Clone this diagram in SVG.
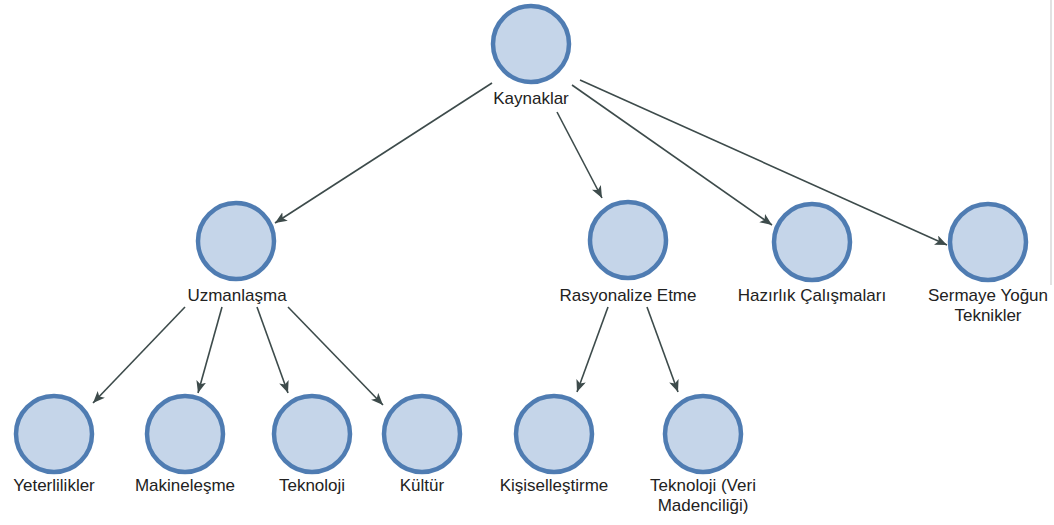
<svg xmlns="http://www.w3.org/2000/svg" width="1054" height="525" viewBox="0 0 1054 525">
  <style>
    .node circle { fill: #c5d5e9; stroke: #4f7cb2; stroke-width: 4.5; }
    .node text { font-family: "Liberation Sans", Arial, sans-serif; font-size: 17px; fill: #222222; text-anchor: middle; }
    .edge { stroke: #3d4b4b; stroke-width: 1.6; fill: none; marker-end: url(#arrow); }
  </style>
  <defs>
    <marker id="arrow" markerWidth="14" markerHeight="12" refX="12" refY="5" orient="auto" markerUnits="userSpaceOnUse">
      <path d="M0,0 L12,5 L0,10 L3,5 Z" fill="#3d4b4b"/>
    </marker>
  </defs>
  <rect width="1054" height="525" fill="#ffffff"/>
  <line x1="1051" y1="0" x2="1051" y2="285" stroke="#d8d8d8" stroke-width="1.5"/>

  <g id="connectors">
    <line class="edge" x1="492" y1="83" x2="275" y2="223"/>
    <line class="edge" x1="557" y1="112" x2="602" y2="198"/>
    <line class="edge" x1="572" y1="85" x2="772" y2="225"/>
    <line class="edge" x1="580" y1="80" x2="947" y2="245"/>
    <line class="edge" x1="185" y1="307" x2="93" y2="403"/>
    <line class="edge" x1="222" y1="307" x2="198" y2="393"/>
    <line class="edge" x1="257" y1="307" x2="288" y2="393"/>
    <line class="edge" x1="288" y1="307" x2="383" y2="405"/>
    <line class="edge" x1="608" y1="307" x2="577" y2="392"/>
    <line class="edge" x1="647" y1="307" x2="678" y2="392"/>
  </g>

  <g id="kaynaklar" class="node">
    <circle cx="531" cy="44" r="38"/>
    <text x="531" y="104">Kaynaklar</text>
  </g>
  <g id="uzmanlasma" class="node">
    <circle cx="236" cy="241" r="38"/>
    <text x="237" y="301">Uzmanlaşma</text>
  </g>
  <g id="rasyonalize" class="node">
    <circle cx="628" cy="240" r="38"/>
    <text x="628" y="301">Rasyonalize Etme</text>
  </g>
  <g id="hazirlik" class="node">
    <circle cx="812" cy="242" r="38"/>
    <text x="812" y="301">Hazırlık Çalışmaları</text>
  </g>
  <g id="sermaye" class="node">
    <circle cx="988" cy="242" r="38"/>
    <text x="988" y="301">Sermaye Yoğun</text>
    <text x="988" y="321">Teknikler</text>
  </g>
  <g id="yeterlilikler" class="node">
    <circle cx="54" cy="434" r="38"/>
    <text x="54" y="491">Yeterlilikler</text>
  </g>
  <g id="makinelesme" class="node">
    <circle cx="185" cy="434" r="38"/>
    <text x="185" y="491">Makineleşme</text>
  </g>
  <g id="teknoloji" class="node">
    <circle cx="312" cy="434" r="38"/>
    <text x="312" y="491">Teknoloji</text>
  </g>
  <g id="kultur" class="node">
    <circle cx="422" cy="434" r="38"/>
    <text x="422" y="491">Kültür</text>
  </g>
  <g id="kisisellestirme" class="node">
    <circle cx="554" cy="434" r="38"/>
    <text x="554" y="491">Kişiselleştirme</text>
  </g>
  <g id="teknoloji-veri" class="node">
    <circle cx="703" cy="434" r="38"/>
    <text x="703" y="491">Teknoloji (Veri</text>
    <text x="703" y="511">Madenciliği)</text>
  </g>
</svg>
